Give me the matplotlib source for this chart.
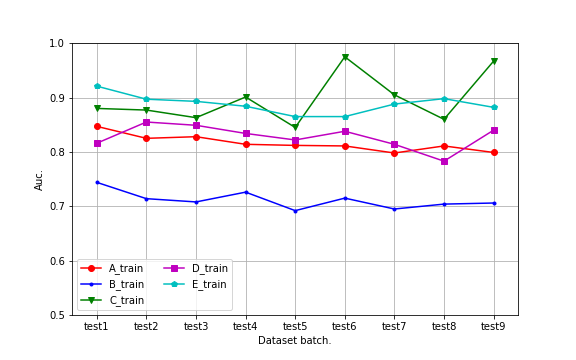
import matplotlib
matplotlib.use('Agg')
from matplotlib import pyplot as plt

batches = ['test1', 'test2', 'test3', 'test4', 'test5', 'test6', 'test7', 'test8', 'test9']
a_train = [0.847, 0.825, 0.828, 0.814, 0.812, 0.811, 0.798, 0.811, 0.799]
b_train = [0.744, 0.714, 0.708, 0.726, 0.692, 0.715, 0.695, 0.704, 0.706]
c_train = [0.880, 0.877, 0.863, 0.901, 0.845, 0.975, 0.905, 0.860, 0.967]
d_train = [0.816, 0.855, 0.849, 0.834, 0.822, 0.838, 0.814, 0.783, 0.840]
e_train = [0.921, 0.897, 0.893, 0.884, 0.865, 0.865, 0.888, 0.898, 0.882]

fig = plt.figure(figsize=(8, 5), dpi=72)
ax = fig.add_axes([0.125, 0.125, 0.775, 0.755])

x = range(len(batches))
ax.plot(x, a_train, color='r', marker='o', label='A_train')
ax.plot(x, b_train, color='b', marker='.', label='B_train')
ax.plot(x, c_train, color='g', marker='v', label='C_train')
ax.plot(x, d_train, color='m', marker='s', label='D_train')
ax.plot(x, e_train, color='c', marker='p', label='E_train')

ax.set_xticks(list(x))
ax.set_xticklabels(batches)
ax.set_xlim(-0.5, 8.5)
ax.set_ylim(0.5, 1.0)
ax.set_xlabel('Dataset batch.')
ax.set_ylabel('Auc.')
ax.grid(True)
ax.legend(loc='lower left', ncol=2)

fig.savefig('out.png', dpi=72)
